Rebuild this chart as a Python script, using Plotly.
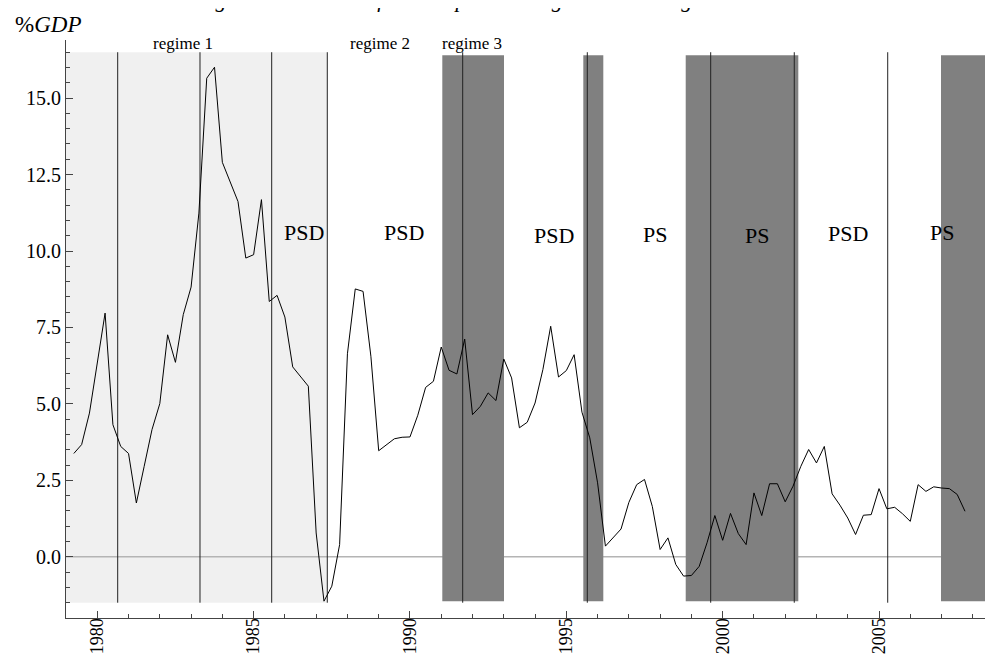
import plotly.graph_objects as go

# ---- data ----
start_year = 1979.25          # first quarterly observation
quarter = 0.25
deficit = [3.38, 3.67, 4.70, 6.39, 7.97, 4.32, 3.61, 3.38, 1.76, 2.96,
           4.16, 5.01, 7.26, 6.36, 7.92, 8.82, 11.24, 15.65, 16.01, 12.90,
           12.24, 11.62, 9.77, 9.88, 11.68, 8.35, 8.55, 7.84, 6.21, 5.90,
           5.58, 0.78, -1.45, -0.96, 0.40, 6.64, 8.76, 8.68, 6.56, 3.47,
           3.67, 3.86, 3.91, 3.92, 4.63, 5.54, 5.74, 6.86, 6.10, 5.98,
           7.12, 4.65, 4.92, 5.36, 5.11, 6.47, 5.85, 4.22, 4.40, 5.03,
           6.12, 7.54, 5.88, 6.09, 6.61, 4.73, 3.89, 2.42, 0.35, 0.62,
           0.91, 1.78, 2.36, 2.53, 1.65, 0.24, 0.62, -0.25, -0.63, -0.61,
           -0.31, 0.46, 1.35, 0.54, 1.42, 0.76, 0.40, 2.09, 1.35, 2.39,
           2.39, 1.80, 2.31, 2.96, 3.51, 3.07, 3.61, 2.06, 1.69, 1.27,
           0.73, 1.36, 1.38, 2.23, 1.57, 1.62, 1.41, 1.16, 2.36, 2.14,
           2.29, 2.25, 2.23, 2.04, 1.49]
years = [start_year + quarter * i for i in range(len(deficit))]

break_dates = [1980.653, 1983.285, 1985.578, 1987.356, 1991.686,
               1995.671, 1999.617, 2002.29, 2005.278]
regime1_span = (1979.0, 1987.356)
dark_spans = [(1991.034, 1993.007), (1995.543, 1996.183),
              (1998.818, 2002.419), (2006.982, 2008.463)]
regime_labels = ["regime 1", "regime 2", "regime 3"]
regime_label_x = [1982.73, 1989.04, 1991.99]
party_labels = ["PSD", "PSD", "PSD", "PS", "PS", "PSD", "PS"]
party_label_x = [1986.605, 1989.80, 1994.60, 1997.84, 2001.09, 2004.00, 2007.01]
party_label_y = [10.62, 10.60, 10.50, 10.54, 10.51, 10.56, 10.59]
y_ticks = [0.0, 2.5, 5.0, 7.5, 10.0, 12.5, 15.0]
x_ticks = [1980, 1985, 1990, 1995, 2000, 2005]
x_range = [1979.0, 2008.645]

SERIF = "Liberation Serif"

fig = go.Figure()

shapes = []
# light regime-1 band
shapes.append(dict(type="rect", xref="x", yref="y",
                   x0=regime1_span[0], x1=regime1_span[1], y0=-1.5, y1=16.5,
                   fillcolor="#f0f0f0", line=dict(width=0), layer="below"))
# zero line
shapes.append(dict(type="line", xref="x", yref="y", x0=x_range[0], x1=x_range[1],
                   y0=0, y1=0, line=dict(color="#b4b4b4", width=1.5),
                   layer="below"))
# dark bands
for a, b in dark_spans:
    shapes.append(dict(type="rect", xref="x", yref="y", x0=a, x1=b,
                       y0=-1.45, y1=16.4, fillcolor="#808080",
                       line=dict(width=0), layer="below"))
# break lines
for d in break_dates:
    shapes.append(dict(type="line", xref="x", yref="y", x0=d, x1=d,
                       y0=-1.5, y1=16.5, line=dict(color="#222222", width=1),
                       layer="below"))

fig.add_trace(go.Scatter(x=years, y=deficit, mode="lines",
                         line=dict(color="black", width=1), showlegend=False,
                         hoverinfo="skip"))

annotations = []
for t, x in zip(regime_labels, regime_label_x):
    annotations.append(dict(text=t, x=x, y=16.78, xref="x", yref="y",
                            showarrow=False, xanchor="center", yanchor="middle",
                            font=dict(family=SERIF, size=17, color="black")))
for t, x, y in zip(party_labels, party_label_x, party_label_y):
    annotations.append(dict(text=t, x=x, y=y, xref="x", yref="y",
                            showarrow=False, xanchor="center", yanchor="middle",
                            font=dict(family=SERIF, size=22, color="black")))
annotations.append(dict(text="%<i>GDP</i>", x=-0.0575, y=1.026, xref="paper",
                        yref="paper", showarrow=False, xanchor="left",
                        yanchor="middle",
                        font=dict(family=SERIF, size=23, color="black")))
annotations.append(dict(text="<i>Figure 3 – Public deficit and political regimes in Portugal</i>",
                        x=0.4164, y=1.045, xref="paper", yref="paper",
                        showarrow=False, xanchor="center", yanchor="bottom",
                        font=dict(family=SERIF, size=22, color="black")))

# the page body adds an 8px offset, so the figure is sized to fit the window
fig.update_layout(
    width=985, height=647,
    margin=dict(l=58, r=0, t=32, b=37),
    paper_bgcolor="white", plot_bgcolor="white",
    shapes=shapes, annotations=annotations,
    showlegend=False,
    xaxis=dict(range=x_range, tickmode="array", tickvals=x_ticks,
               ticktext=[str(v) for v in x_ticks], tickangle=-90,
               automargin=False, ticklabelstandoff=-8,
               ticks="inside", ticklen=7, tickcolor="#444", showgrid=False,
               zeroline=False, showline=True, linecolor="#444", linewidth=1,
               tickfont=dict(family=SERIF, size=18, color="black"),
               minor=dict(dtick=1, tick0=1979, ticks="inside", ticklen=4,
                          tickcolor="#444", showgrid=False)),
    yaxis=dict(range=[-2.0, 16.9], tickmode="array", tickvals=y_ticks,
               ticktext=[f"{v:.1f}" for v in y_ticks], automargin=False,
               ticks="inside", ticklen=7, tickcolor="#444", showgrid=False,
               zeroline=False, showline=True, linecolor="#444", linewidth=1,
               tickfont=dict(family=SERIF, size=20, color="black"),
               minor=dict(dtick=0.5, tick0=0, ticks="inside", ticklen=4,
                          tickcolor="#444", showgrid=False)),
)

fig.write_html("out.html")
